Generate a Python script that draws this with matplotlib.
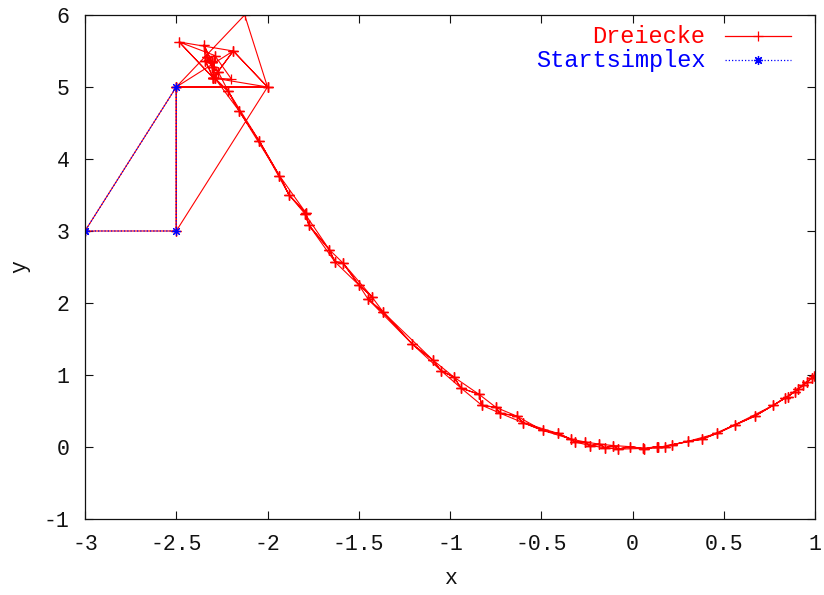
import numpy as np
import matplotlib
matplotlib.use("Agg")
import matplotlib.pyplot as plt

plt.rcParams["font.family"] = ["Liberation Mono", "DejaVu Sans Mono"]
plt.rcParams["axes.unicode_minus"] = False

# Start simplex (closed triangle)
start_x = [-3.0, -2.5, -2.5]
start_y = [3.0, 3.0, 5.0]

# First simplex steps near the start, three vertices per triangle
head_x = [-3.0, -2.5, -2.5,
          -2.5, -2.5, -2.0,
          -2.5, -2.0, -2.125,
          -2.5, -2.0, -2.1875,
          -2.0, -2.1875, -2.297,
          -2.1875, -2.297, -2.484,
          -2.297, -2.484, -2.289,
          -2.297, -2.289, -2.1975,
          -2.297, -2.289, -2.341,
          -2.297, -2.341, -2.304,
          -2.341, -2.304, -2.348,
          -2.304, -2.348, -2.3335,
          -2.304, -2.3335, -2.3045]
head_y = [3.0, 3.0, 5.0,
          3.0, 5.0, 5.0,
          5.0, 5.0, 6.0,
          5.0, 5.0, 5.5,
          5.0, 5.5, 5.125,
          5.5, 5.125, 5.625,
          5.125, 5.625, 5.4375,
          5.125, 5.4375, 5.109,
          5.125, 5.4375, 5.367,
          5.125, 5.367, 5.342,
          5.367, 5.342, 5.584,
          5.342, 5.584, 5.415,
          5.342, 5.415, 5.276]

# Vertices visited while the simplex crawls down the valley;
# every three consecutive vertices form one triangle
valley_x = [-2.3335, -2.304, -2.3045, -2.270, -2.288, -2.215, -2.156, -2.045,
            -1.935, -1.882, -1.789, -1.795, -1.773, -1.661, -1.630, -1.588,
            -1.499, -1.429, -1.448, -1.365, -1.207, -1.095, -1.049, -0.978,
            -0.940, -0.840, -0.826, -0.748, -0.726, -0.635, -0.602, -0.492,
            -0.410, -0.337, -0.315, -0.260, -0.233, -0.182, -0.151, -0.105,
            -0.081, -0.014, 0.059, 0.063, 0.132, 0.141, 0.178, 0.215,
            0.306, 0.382, 0.465, 0.562, 0.671, 0.772, 0.836, 0.850,
            0.890, 0.905, 0.936, 0.955, 0.982, 0.995, 1.005]
valley_y = [5.415, 5.342, 5.276, 5.210, 5.120, 4.940, 4.670, 4.250,
            3.770, 3.500, 3.250, 3.240, 3.080, 2.740, 2.570, 2.560,
            2.250, 2.090, 2.050, 1.870, 1.430, 1.210, 1.060, 0.970,
            0.820, 0.730, 0.580, 0.550, 0.470, 0.430, 0.340, 0.230,
            0.190, 0.110, 0.070, 0.070, 0.020, 0.040, -0.010, 0.020,
            -0.030, 0.005, -0.020, -0.030, 0.005, -0.005, 0.005, 0.030,
            0.080, 0.110, 0.190, 0.310, 0.430, 0.580, 0.680, 0.700,
            0.770, 0.800, 0.860, 0.900, 0.955, 0.985, 1.005]

x_ticks = [-3, -2.5, -2, -1.5, -1, -0.5, 0, 0.5, 1]
x_tick_labels = ["-3", "-2.5", "-2", "-1.5", "-1", "-0.5", "0", "0.5", "1"]
y_ticks = [-1, 0, 1, 2, 3, 4, 5, 6]
y_tick_labels = ["-1", "0", "1", "2", "3", "4", "5", "6"]

legend_labels = ["Dreiecke", "Startsimplex"]


def closed_triangles(tx, ty):
    """Join triangles into one polyline, each closed and separated by NaN."""
    px, py = [], []
    for i in range(0, len(tx), 3):
        px += [tx[i], tx[i + 1], tx[i + 2], tx[i], np.nan]
        py += [ty[i], ty[i + 1], ty[i + 2], ty[i], np.nan]
    return px, py


# triangles from the valley walk
vx, vy = [], []
for i in range(len(valley_x) - 2):
    vx += valley_x[i:i + 3]
    vy += valley_y[i:i + 3]

tri_x, tri_y = closed_triangles(head_x + vx, head_y + vy)
s_x, s_y = closed_triangles(start_x, start_y)

fig = plt.figure(figsize=(8.24, 5.95), dpi=100)
ax = fig.add_axes([85 / 824, 1 - 519 / 595, 730 / 824, 504 / 595])

red = (1.0, 0.0, 0.0)
blue = (0.0, 0.0, 1.0)
star = (8, 2, 0)

ax.plot(tri_x, tri_y, color=red, lw=0.8, marker="+", ms=6.5, mew=0.9,
        clip_on=True)
ax.plot(s_x, s_y, color=blue, lw=0.9, ls=(0, (1, 1.6)), marker=star,
        ms=6.5, mew=0.8)

ax.set_xlim(-3, 1)
ax.set_ylim(-1, 6)
ax.set_xticks(x_ticks)
ax.set_xticklabels(x_tick_labels)
ax.set_yticks(y_ticks)
ax.set_yticklabels(y_tick_labels)
ax.tick_params(direction="in", top=True, right=True, length=5.8, width=0.8,
               labelsize=15.5, pad=11, colors="#111111")
for sp in ax.spines.values():
    sp.set_linewidth(0.9)
    sp.set_color("#111111")

fig.text(450 / 824, 1 - 578 / 595, "x", ha="center", va="center",
         fontsize=15.5, color="#111111")
fig.text(20 / 824, 1 - 267 / 595, "y", ha="center", va="center",
         rotation=90, fontsize=15.5, color="#111111")

# key in the upper right corner
tr = ax.transAxes
key_rows = [(0.945, red, "-", "+"), (0.8974, blue, (0, (1, 1.6)), star)]
for label, (yb, col, ls, mk) in zip(legend_labels, key_rows):
    ax.text(0.850, yb, label, transform=tr, ha="right", va="baseline",
            fontsize=17, color=col)
    yc = yb + 0.013
    ax.plot([0.8767, 0.9671], [yc, yc], transform=tr, color=col, lw=0.9,
            ls=ls, clip_on=False)
    ax.plot([0.9219], [yc], transform=tr, color=col, marker=mk, ms=6.5,
            mew=0.9, clip_on=False)

fig.savefig("out.png", dpi=100)
